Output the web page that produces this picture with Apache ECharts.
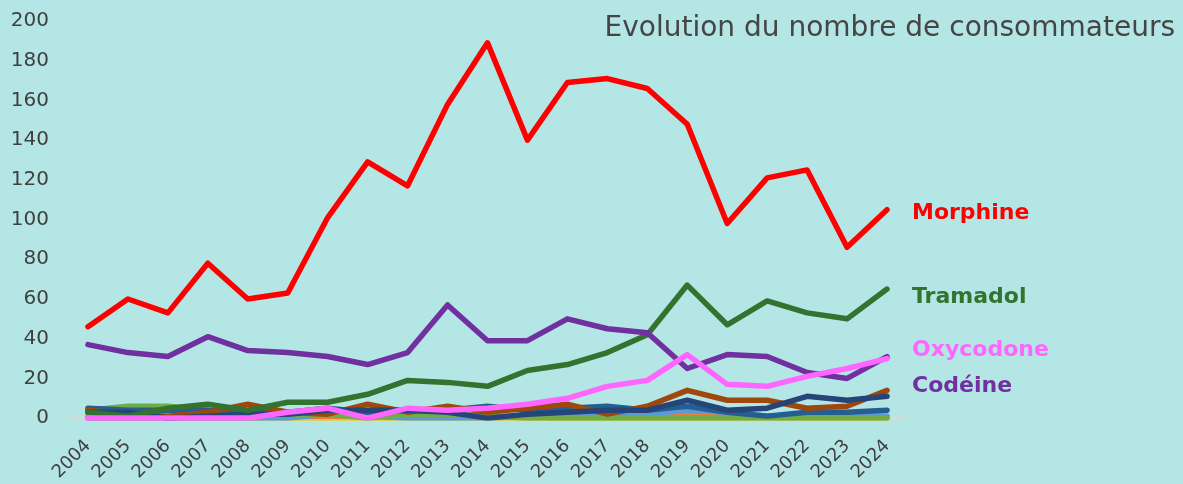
<!DOCTYPE html>
<html>
<head>
    <meta charset="utf-8">
    <title>Evolution du nombre de consommateurs</title>
    <script src="https://cdn.jsdelivr.net/npm/echarts@6/dist/echarts.min.js"></script>
    <style>
        html, body { margin: 0; padding: 0; background: #b5e6e6; }
    </style>
</head>
<body>
    <div id="main" style="width: 1183px;height:484px;"></div>
    <script type="text/javascript">
        var years = ['2004', '2005', '2006', '2007', '2008', '2009', '2010', '2011', '2012', '2013', '2014',
            '2015', '2016', '2017', '2018', '2019', '2020', '2021', '2022', '2023', '2024'];

        var morphine  = [46, 60, 53, 78, 60, 63, 101, 129, 117, 158, 189, 140, 169, 171, 166, 148, 98, 121, 125, 86, 105];
        var tramadol  = [3, 1, 5, 7, 4, 8, 8, 12, 19, 18, 16, 24, 27, 33, 42, 67, 47, 59, 53, 50, 65];
        var codeine   = [37, 33, 31, 41, 34, 33, 31, 27, 33, 57, 39, 39, 50, 45, 43, 25, 32, 31, 23, 20, 31];
        var oxycodone = [0, 0, 0, 0, 0, 3, 5, 0, 5, 4, 5, 7, 10, 16, 19, 32, 17, 16, 21, 25, 30];

        // the small ones at the bottom
        var brown     = [4, 2, 1, 3, 7, 3, 2, 7, 3, 6, 3, 5, 7, 2, 6, 14, 9, 9, 5, 6, 14];
        var navy      = [3, 3, 0, 1, 2, 2, 4, 4, 4, 3, 0, 2, 3, 4, 4, 9, 4, 5, 11, 9, 11];
        var blue      = [5, 4, 4, 4, 3, 3, 5, 3, 4, 4, 6, 4, 5, 6, 4, 6, 3, 1, 3, 3, 4];
        var green     = [4, 6, 6, 4, 3, 2, 2, 0, 2, 2, 1, 0, 0, 0, 0, 0, 0, 0, 0, 0, 0];
        var orange    = [1, 1, 1, 1, 1, 1, 1, 1, 1, 1, 1, 1, 1, 1, 1, 2, 2, 1, 1, 1, 1];
        var yellow    = [0, 0, 0, 0, 0, 0, 0, 0, 0, 0, 0, 0, 0, 0, 0, 0, 0, 0, 0, 0, 0];
        var lightBlue = [0, 0, 0, 0, 0, 0, 2, 1, 0, 0, 0, 1, 1, 1, 2, 4, 3, 1, 1, 1, 1];

        var myChart = echarts.init(document.getElementById('main'));

        function line(data, color) {
            return {
                type: 'line',
                data: data,
                symbol: 'none',
                silent: true,
                lineStyle: { color: color, width: 5.5, cap: 'round', join: 'round' },
                itemStyle: { color: color }
            };
        }

        var font = 'DejaVu Sans, sans-serif';

        function endLabel(text, y, color) {
            return {
                type: 'text',
                x: 912,
                y: y,
                style: {
                    text: text,
                    fill: color,
                    font: 'bold 22px ' + font,
                    verticalAlign: 'middle'
                }
            };
        }

        var option = {
            backgroundColor: '#b5e6e6',
            animation: false,
            title: {
                text: 'Evolution du nombre de consommateurs',
                right: 3,
                top: 10,
                textStyle: {
                    color: '#454545',
                    fontSize: 28,
                    fontWeight: 'normal',
                    fontFamily: font
                }
            },
            grid: {
                left: 68,
                right: 276,
                top: 21,
                bottom: 64
            },
            xAxis: {
                type: 'category',
                data: years,
                boundaryGap: true,
                axisLine: { lineStyle: { color: '#d9d9d9', width: 2 } },
                axisTick: { show: false },
                axisLabel: {
                    interval: 0,
                    rotate: 45,
                    color: '#404040',
                    fontSize: 18,
                    fontFamily: font,
                    margin: 25
                }
            },
            yAxis: {
                type: 'value',
                min: 0,
                max: 200,
                interval: 20,
                splitLine: { show: false },
                axisLine: { show: false },
                axisTick: { show: false },
                axisLabel: {
                    color: '#404040',
                    fontSize: 20,
                    fontFamily: font,
                    margin: 19
                }
            },
            series: [
                line(yellow, '#ffc000'),
                line(orange, '#ed7d31'),
                line(lightBlue, '#5b9bd5'),
                line(green, '#70ad47'),
                line(blue, '#255e91'),
                line(brown, '#9e480e'),
                line(navy, '#264478'),
                line(tramadol, '#33722f'),
                line(codeine, '#7030a0'),
                line(oxycodone, '#ff66ff'),
                line(morphine, '#ff0000')
            ],
            graphic: [
                endLabel('Morphine', 213, '#ff0000'),
                endLabel('Tramadol', 297, '#33722f'),
                endLabel('Oxycodone', 350, '#ff66ff'),
                endLabel('Codéine', 386, '#7030a0')
            ]
        };

        myChart.setOption(option);
    </script>
</body>
</html>
